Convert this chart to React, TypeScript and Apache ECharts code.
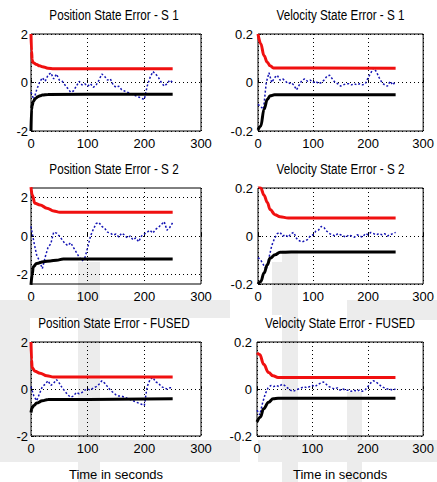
import React, { useEffect, useRef } from "react";
import * as echarts from "echarts";

// ---- time axis for the noisy error traces (s)
const T = [0,5,10,15,20,25,30,35,40,45,50,55,60,65,70,75,80,85,90,95,100,105,110,115,120,125,130,135,140,145,150,155,160,165,170,175,180,185,190,195,200,205,210,215,220,225,230,235,240,245,250];

// ---- Position S1
const posS1Err = [-0.4,-0.7,-0.3,0.0,0.2,0.05,0.3,0.4,0.15,0.35,0.1,0.05,-0.1,-0.25,-0.4,-0.35,-0.15,0.05,-0.1,-0.05,-0.15,-0.05,-0.2,-0.1,0.1,0.35,0.25,0.1,0.15,-0.1,-0.2,-0.15,-0.3,-0.35,-0.4,-0.45,-0.5,-0.55,-0.6,-0.65,-0.7,-0.15,0.2,0.45,0.35,0.2,0.0,-0.15,-0.05,0.1,0.0];
const posS1RedT = [0,1,2,3,5,10,15,20,30,40,250];
const posS1Red = [2.0,1.3,0.95,0.85,0.8,0.74,0.69,0.65,0.59,0.57,0.57];
const posS1BlackT = [0,1,2,4,8,12,16,20,30,250];
const posS1Black = [-2.0,-1.1,-0.95,-0.78,-0.66,-0.59,-0.55,-0.52,-0.49,-0.48];

// ---- Velocity S1
const velS1Err = [-0.09,-0.1,-0.11,0.0,0.04,0.0,0.02,0.03,0.01,0.015,0.005,-0.005,0.0,-0.01,-0.03,-0.01,0.01,0.015,0.005,0.01,0.0,0.005,-0.005,0.0,0.01,0.025,0.03,0.015,0.0,-0.005,-0.015,-0.01,-0.005,-0.005,-0.01,-0.005,-0.01,-0.005,-0.01,-0.005,0.02,0.04,0.06,0.045,0.02,0.0,-0.01,-0.015,0.005,-0.01,0.005];
const velS1RedT = [0,5,11,17,22,28,250];
const velS1Red = [0.2,0.16,0.11,0.083,0.069,0.06,0.059];
const velS1BlackT = [0,5,11,17,22,30,250];
const velS1Black = [-0.195,-0.18,-0.11,-0.069,-0.055,-0.051,-0.051];

// ---- Position S2
const posS2Err = [0.5,-0.3,-1.0,-1.3,-1.7,-1.1,-0.6,-0.4,0.2,0.15,0.0,-0.2,-0.4,-0.5,-0.35,-0.6,-0.85,-1.1,-1.3,-1.15,-0.6,0.0,0.35,0.65,0.7,0.5,0.4,0.2,0.15,0.05,0.1,-0.05,0.15,0.05,-0.1,0.0,-0.2,-0.1,-0.3,0.0,0.1,0.2,0.3,0.15,0.35,0.45,0.6,0.75,0.3,0.45,0.7];
const posS2RedT = [0,2,7,16,28,40,51,250];
const posS2Red = [2.55,2.15,1.7,1.62,1.45,1.3,1.24,1.24];
const posS2BlackT = [0,2,4,10,22,34,45,57,250];
const posS2Black = [-2.55,-2.04,-1.6,-1.43,-1.34,-1.3,-1.26,-1.2,-1.2];

// ---- Velocity S2
const velS2Err = [-0.09,-0.1,-0.12,-0.14,-0.09,-0.04,-0.01,0.01,0.015,0.0,0.005,-0.005,0.01,0.015,-0.01,-0.02,-0.025,-0.02,-0.015,0.0,0.005,0.02,0.025,0.04,0.035,0.02,0.01,0.005,0.0,0.01,0.005,0.0,-0.005,0.005,0.0,-0.005,0.005,0.0,-0.005,0.01,0.005,0.015,0.01,0.005,0.01,0.005,0.01,0.0,0.005,0.01,0.015];
const velS2RedT = [0,5,11,17,22,31,40,55,250];
const velS2Red = [0.22,0.2,0.17,0.14,0.11,0.089,0.08,0.075,0.075];
const velS2BlackT = [0,5,11,17,22,31,40,60,250];
const velS2Black = [-0.2,-0.19,-0.154,-0.12,-0.092,-0.078,-0.068,-0.067,-0.067];

// ---- Position FUSED
const posFErr = [0.1,-0.3,-0.5,-0.2,0.1,0.2,0.35,0.15,0.25,0.4,0.25,0.05,-0.1,-0.25,-0.35,-0.3,-0.15,-0.2,-0.15,-0.05,0.0,-0.05,0.05,0.1,0.2,0.35,0.25,0.1,-0.05,-0.15,-0.25,-0.3,-0.3,-0.35,-0.4,-0.45,-0.5,-0.55,-0.6,-0.65,-0.7,0.1,0.4,0.5,0.3,0.25,0.1,0.05,0.0,0.05,0.05];
const posFRedT = [0,1,2,7,16,28,40,250];
const posFRed = [2.0,1.25,0.9,0.76,0.67,0.56,0.51,0.51];
const posFBlackT = [0,2,5,10,20,30,250];
const posFBlack = [-1.0,-0.8,-0.7,-0.6,-0.5,-0.45,-0.42];

// ---- Velocity FUSED
const velFErr = [-0.09,-0.11,-0.06,-0.02,0.005,0.015,0.01,0.015,0.01,0.02,0.015,0.005,-0.005,-0.01,-0.005,0.0,0.005,0.01,0.005,0.01,0.015,0.01,0.02,0.025,0.03,0.02,0.01,0.005,0.0,0.005,-0.005,0.0,-0.005,-0.005,-0.01,-0.005,-0.01,-0.005,-0.01,-0.005,0.01,0.025,0.035,0.03,0.02,0.01,0.005,0.0,0.0,-0.005,0.0];
const velFRedT = [0,5,12,21,29,38,250];
const velFRed = [0.154,0.147,0.105,0.07,0.056,0.049,0.049];
const velFBlackT = [0,6,12,21,29,38,250];
const velFBlack = [-0.14,-0.12,-0.084,-0.056,-0.042,-0.039,-0.039];

// ---- axis ticks
const xTicks = [0, 100, 200, 300];
const posTicks = [-2, 0, 2];
const velTicks = [-0.2, 0, 0.2];

const titles = [
  "Position State Error - S 1",
  "Velocity State Error - S 1",
  "Position State Error - S 2",
  "Velocity State Error - S 2",
  "Position State Error - FUSED",
  "Velocity State Error - FUSED",
];
const xName = "Time in seconds";

const FONT = "'Liberation Sans Narrow', 'Arial Narrow', 'Liberation Sans', Arial, sans-serif";

const zip = (xs: number[], ys: number[]) => xs.map((x, i) => [x, ys[i]]);

export default function App() {
  const ref = useRef<HTMLDivElement>(null);
  useEffect(() => {
    if (!ref.current) return;
    const chart = echarts.init(ref.current, null, { renderer: "svg" });

    const panels = [
      { err: posS1Err, rt: posS1RedT, r: posS1Red, bt: posS1BlackT, b: posS1Black, min: -2, max: 2, ticks: posTicks },
      { err: velS1Err, rt: velS1RedT, r: velS1Red, bt: velS1BlackT, b: velS1Black, min: -0.2, max: 0.2, ticks: velTicks },
      { err: posS2Err, rt: posS2RedT, r: posS2Red, bt: posS2BlackT, b: posS2Black, min: -2.5, max: 2.5, ticks: posTicks },
      { err: velS2Err, rt: velS2RedT, r: velS2Red, bt: velS2BlackT, b: velS2Black, min: -0.2, max: 0.2, ticks: velTicks },
      { err: posFErr, rt: posFRedT, r: posFRed, bt: posFBlackT, b: posFBlack, min: -2, max: 2, ticks: posTicks },
      { err: velFErr, rt: velFRedT, r: velFRed, bt: velFBlackT, b: velFBlack, min: -0.2, max: 0.2, ticks: velTicks },
    ];

    const gridPos = [
      { left: 31, top: 34, width: 170, height: 97 },
      { left: 258, top: 34, width: 169, height: 97 },
      { left: 31, top: 188, width: 170, height: 96 },
      { left: 258, top: 188, width: 169, height: 96 },
      { left: 31, top: 342, width: 170, height: 96 },
      { left: 257, top: 342, width: 170, height: 96 },
    ];

    const grid = gridPos.map((g) => ({
      ...g,
      show: true,
      borderColor: "#000",
      borderWidth: 1,
      backgroundColor: "transparent",
      containLabel: false,
    }));

    const xAxis = panels.map((_, i) => ({
      type: "value",
      gridIndex: i,
      min: xTicks[0],
      max: xTicks[xTicks.length - 1],
      interval: 100,
      name: i >= 4 ? xName : "",
      nameLocation: "middle",
      nameGap: 32,
      nameTextStyle: { fontFamily: FONT, fontSize: 13, color: "#000" },
      axisLine: { show: false },
      axisTick: { show: true, inside: true, length: 3, lineStyle: { color: "#000" } },
      axisLabel: { fontFamily: FONT, fontSize: 13, color: "#000", margin: 6 },
      splitLine: { show: true, lineStyle: { color: "#000", type: [1, 3], width: 1 } },
    }));

    const yAxis = panels.map((p, i) => ({
      type: "value",
      gridIndex: i,
      min: p.min,
      max: p.max,
      axisLine: { show: false },
      axisTick: { show: true, inside: true, length: 3, customValues: p.ticks, lineStyle: { color: "#000" } },
      axisLabel: { fontFamily: FONT, fontSize: 13, color: "#000", margin: i % 2 === 0 ? 3 : 5, customValues: p.ticks },
      splitLine: { show: true, lineStyle: { color: "#000", type: [1, 3], width: 1 } },
    }));

    const series: any[] = [];
    panels.forEach((p, i) => {
      series.push({
        type: "line",
        xAxisIndex: i,
        yAxisIndex: i,
        data: zip(T, p.err),
        showSymbol: false,
        lineStyle: { color: "#1414b4", width: 1.5, type: [2, 2] },
        z: 3,
      });
      series.push({
        type: "line",
        xAxisIndex: i,
        yAxisIndex: i,
        data: zip(p.rt, p.r),
        showSymbol: false,
        smooth: 0.4,
        smoothMonotone: "x",
        lineStyle: { color: "#f01010", width: 3 },
        z: 4,
      });
      series.push({
        type: "line",
        xAxisIndex: i,
        yAxisIndex: i,
        data: zip(p.bt, p.b),
        showSymbol: false,
        smooth: 0.4,
        smoothMonotone: "x",
        lineStyle: { color: "#000", width: 3 },
        z: 4,
      });
    });

    const titleCenters = gridPos.map((g) => ({ x: g.left + g.width / 2 - 2, y: g.top - 19 }));
    const GRAY = "#ececec";
    const watermark = [
      [78, 262, 22, 220],
      [282, 250, 16, 232],
      [0, 300, 230, 18],
      [347, 300, 90, 20],
      [347, 392, 15, 90],
      [0, 318, 30, 122],
      [0, 440, 240, 22],
      [258, 440, 179, 22],
      [272, 262, 25, 53],
    ];

    chart.setOption({
      animation: false,
      grid,
      xAxis,
      yAxis,
      series,
      graphic: [
        ...watermark.map((w) => ({
          type: "rect",
          z: -10,
          silent: true,
          shape: { x: w[0], y: w[1], width: w[2], height: w[3] },
          style: { fill: GRAY },
        })),
        ...titles.map((t, i) => ({
          type: "text",
          x: titleCenters[i].x,
          y: titleCenters[i].y,
          scaleX: 0.78,
          style: {
            text: t,
            fill: "#000",
            font: `15px ${FONT}`,
            align: "center",
            verticalAlign: "middle",
          },
        })),
      ],
    });
    return () => chart.dispose();
  }, []);
  return (
    <div
      ref={ref}
      style={{ position: "absolute", left: 0, top: 0, width: 437, height: 482, background: "#fff" }}
    />
  );
}
